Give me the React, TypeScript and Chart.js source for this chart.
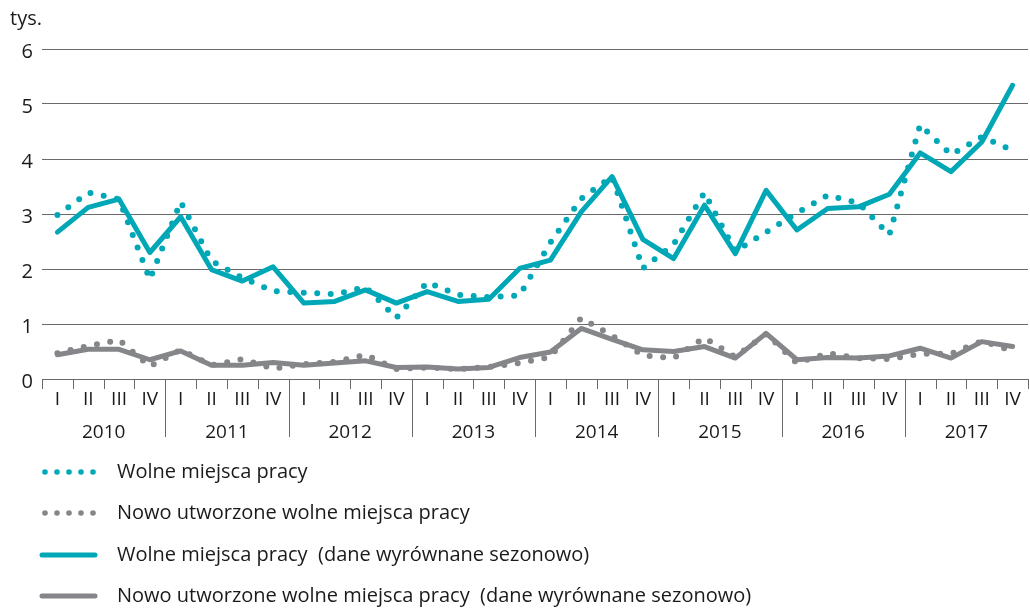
import React, { useEffect, useRef } from 'react';
import { Chart, registerables } from 'chart.js';

Chart.register(...registerables);

const QUARTERS = ['I', 'II', 'III', 'IV'];
const YEARS = ['2010', '2011', '2012', '2013', '2014', '2015', '2016', '2017'];
const CATEGORIES = YEARS.flatMap((y) => QUARTERS.map((q) => `${q} ${y}`));

const Y_TICKS = [0, 1, 2, 3, 4, 5, 6];

// Wolne miejsca pracy (tys.)
const WOLNE = [
  2.98, 3.39, 3.27, 1.81,
  3.22, 2.15, 1.84, 1.6,
  1.57, 1.54, 1.67, 1.11,
  1.76, 1.53, 1.49, 1.52,
  2.48, 3.28, 3.68, 2.01,
  2.45, 3.39, 2.32, 2.67,
  3.02, 3.34, 3.2, 2.62,
  4.62, 4.08, 4.4, 4.16,
];

// Nowo utworzone wolne miejsca pracy (tys.)
const NOWE = [
  0.47, 0.6, 0.71, 0.23,
  0.53, 0.25, 0.36, 0.19,
  0.27, 0.31, 0.44, 0.18,
  0.21, 0.18, 0.22, 0.29,
  0.4, 1.11, 0.79, 0.43,
  0.38, 0.75, 0.4, 0.82,
  0.29, 0.47, 0.38, 0.36,
  0.46, 0.46, 0.69, 0.51,
];

// Wolne miejsca pracy (dane wyrównane sezonowo)
const WOLNE_SA = [
  2.67, 3.12, 3.27, 2.3,
  2.95, 1.99, 1.78, 2.04,
  1.38, 1.41, 1.62, 1.38,
  1.59, 1.41, 1.45, 2.01,
  2.16, 3.04, 3.68, 2.54,
  2.19, 3.16, 2.28, 3.43,
  2.71, 3.1, 3.13, 3.36,
  4.11, 3.77, 4.31, 5.34,
];

// Nowo utworzone wolne miejsca pracy (dane wyrównane sezonowo)
const NOWE_SA = [
  0.44, 0.54, 0.54, 0.35,
  0.51, 0.25, 0.25, 0.3,
  0.25, 0.29, 0.33, 0.21,
  0.22, 0.18, 0.21, 0.39,
  0.49, 0.92, 0.72, 0.53,
  0.5, 0.59, 0.38, 0.83,
  0.35, 0.39, 0.38, 0.42,
  0.56, 0.38, 0.68, 0.59,
];

const LEGEND = [
  { label: 'Wolne miejsca pracy', dotted: true, color: 'teal' },
  { label: 'Nowo utworzone wolne miejsca pracy', dotted: true, color: 'gray' },
  { label: 'Wolne miejsca pracy  (dane wyrównane sezonowo)', dotted: false, color: 'teal' },
  { label: 'Nowo utworzone wolne miejsca pracy  (dane wyrównane sezonowo)', dotted: false, color: 'gray' },
];

const TEAL = '#00a8b7';
const GRAY = '#85868a';
const GRID = '#6a6a6a';
const TEXT = '#1a1a1a';
const FONT = '"Open Sans", "Noto Sans", sans-serif';

const decorPlugin = {
  id: 'decor',
  afterDraw(chart: any) {
    const { ctx, chartArea } = chart;
    const { left, right, bottom } = chartArea;
    const n = CATEGORIES.length;
    const w = (right - left) / n;
    ctx.save();
    // x-axis ticks
    ctx.strokeStyle = GRID;
    ctx.lineWidth = 1;
    for (let k = 0; k <= n; k++) {
      const x = Math.round(left + k * w) + 0.5;
      const long = k % 4 === 0 && k > 0 && k < n;
      ctx.beginPath();
      ctx.moveTo(x, bottom);
      ctx.lineTo(x, long ? 437 : 389);
      ctx.stroke();
    }
    ctx.fillStyle = TEXT;
    ctx.textAlign = 'center';
    ctx.textBaseline = 'alphabetic';
    ctx.font = `19px ${FONT}`;
    for (let i = 0; i < n; i++) {
      ctx.fillText(QUARTERS[i % 4], left + (i + 0.5) * w, 405);
    }
    YEARS.forEach((y, j) => {
      ctx.fillText(y, left + (j * 4 + 2) * w, 438);
    });
    // unit label
    ctx.textAlign = 'left';
    ctx.font = `20px ${FONT}`;
    ctx.fillText('tys.', 10, 25);

    // legend
    const baselines = [478, 519, 561, 602];
    LEGEND.forEach((item, i) => {
      const col = item.color === 'teal' ? TEAL : GRAY;
      const cy = baselines[i] - 6;
      if (item.dotted) {
        ctx.fillStyle = col;
        for (let d = 0; d < 5; d++) {
          ctx.beginPath();
          ctx.arc(45 + d * 12, cy, 2.8, 0, Math.PI * 2);
          ctx.fill();
        }
      } else {
        ctx.strokeStyle = col;
        ctx.lineWidth = 5;
        ctx.lineCap = 'round';
        ctx.beginPath();
        ctx.moveTo(42, cy);
        ctx.lineTo(95, cy);
        ctx.stroke();
      }
      ctx.fillStyle = TEXT;
      ctx.font = `20px ${FONT}`;
      ctx.fillText(item.label, 117, baselines[i]);
    });
    ctx.restore();
  },
};

export default function App() {
  const canvasRef = useRef<HTMLCanvasElement | null>(null);

  useEffect(() => {
    if (!canvasRef.current) return;
    const chart = new Chart(canvasRef.current, {
      type: 'line',
      data: {
        labels: CATEGORIES,
        datasets: [
          {
            label: LEGEND[0].label,
            data: WOLNE,
            borderColor: TEAL,
            borderWidth: 6,
            borderDash: [0, 13.5],
            borderCapStyle: 'round',
            pointRadius: 0,
            fill: false,
            tension: 0,
          },
          {
            label: LEGEND[1].label,
            data: NOWE,
            borderColor: GRAY,
            borderWidth: 6,
            borderDash: [0, 13.5],
            borderCapStyle: 'round',
            pointRadius: 0,
            fill: false,
            tension: 0,
          },
          {
            label: LEGEND[2].label,
            data: WOLNE_SA,
            borderColor: TEAL,
            borderWidth: 5,
            borderJoinStyle: 'round',
            borderCapStyle: 'round',
            pointRadius: 0,
            fill: false,
            tension: 0,
          },
          {
            label: LEGEND[3].label,
            data: NOWE_SA,
            borderColor: GRAY,
            borderWidth: 5,
            borderJoinStyle: 'round',
            borderCapStyle: 'round',
            pointRadius: 0,
            fill: false,
            tension: 0,
          },
        ],
      },
      options: {
        responsive: false,
        animation: false,
        devicePixelRatio: 1,
        layout: { padding: { left: 0, top: 49, right: 2, bottom: 229 } },
        plugins: {
          legend: { display: false },
          tooltip: { enabled: false },
        },
        scales: {
          x: {
            type: 'category',
            display: false,
            offset: true,
          },
          y: {
            min: 0,
            max: 6,
            afterBuildTicks: (scale: any) => {
              scale.ticks = Y_TICKS.map((v) => ({ value: v }));
            },
            afterFit: (scale: any) => {
              scale.width = 42;
            },
            border: { display: false },
            grid: { color: GRID, lineWidth: 1, drawTicks: false },
            ticks: {
              padding: 9,
              labelOffset: 3,
              color: TEXT,
              font: { family: FONT, size: 20 },
            },
          },
        },
      },
      plugins: [decorPlugin],
    });
    return () => chart.destroy();
  }, []);

  return (
    <div style={{ position: 'fixed', left: 0, top: 0, width: 1030, height: 608, background: '#fff' }}>
      <canvas ref={canvasRef} width={1030} height={608} style={{ display: 'block' }} />
    </div>
  );
}
